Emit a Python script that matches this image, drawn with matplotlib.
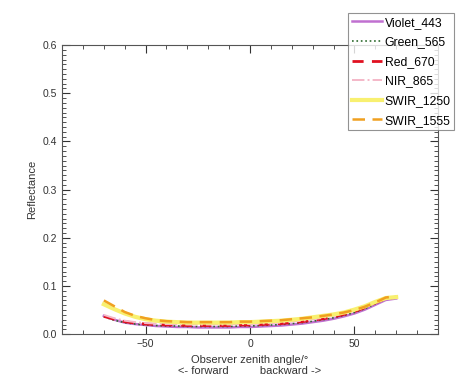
import numpy as np
import matplotlib
matplotlib.use("Agg")
import matplotlib.pyplot as plt
from matplotlib.ticker import MultipleLocator

plt.rcParams['font.family'] = ['Liberation Sans', 'DejaVu Sans']

# zenith angles (negative = forward, positive = backward)
angles = [-70, -65, -60, -55, -50, -45, -40, -35, -30, -25, -20, -15, -10, -5, 0,
          5, 10, 15, 20, 25, 30, 35, 40, 45, 50, 55, 60, 65, 70]

violet_443 = [0.038, 0.030, 0.024, 0.021, 0.019, 0.017, 0.016, 0.015, 0.015, 0.014, 0.014, 0.014, 0.014, 0.015, 0.015,
              0.016, 0.017, 0.018, 0.020, 0.022, 0.025, 0.028, 0.032, 0.037, 0.043, 0.051, 0.061, 0.071, 0.074]
green_565 = [0.036, 0.029, 0.024, 0.021, 0.019, 0.018, 0.017, 0.017, 0.016, 0.016, 0.016, 0.016, 0.016, 0.017, 0.017,
             0.018, 0.019, 0.020, 0.022, 0.024, 0.027, 0.030, 0.034, 0.039, 0.045, 0.053, 0.063, 0.073, 0.076]
red_670 = [0.037, 0.031, 0.026, 0.023, 0.021, 0.020, 0.019, 0.019, 0.018, 0.018, 0.018, 0.018, 0.018, 0.019, 0.019,
           0.020, 0.021, 0.022, 0.024, 0.026, 0.029, 0.032, 0.036, 0.041, 0.047, 0.055, 0.065, 0.074, 0.077]
nir_865 = [0.040, 0.033, 0.028, 0.025, 0.023, 0.022, 0.021, 0.021, 0.020, 0.020, 0.020, 0.020, 0.020, 0.021, 0.021,
           0.022, 0.023, 0.024, 0.026, 0.028, 0.031, 0.034, 0.038, 0.043, 0.049, 0.057, 0.066, 0.075, 0.078]
swir_1250 = [0.062, 0.052, 0.043, 0.036, 0.031, 0.028, 0.026, 0.025, 0.024, 0.024, 0.024, 0.024, 0.024, 0.025, 0.025,
             0.026, 0.027, 0.028, 0.030, 0.032, 0.035, 0.038, 0.041, 0.045, 0.051, 0.058, 0.067, 0.075, 0.077]
swir_1555 = [0.070, 0.058, 0.046, 0.038, 0.033, 0.029, 0.027, 0.026, 0.025, 0.025, 0.025, 0.025, 0.025, 0.026, 0.026,
             0.027, 0.028, 0.029, 0.031, 0.033, 0.035, 0.038, 0.041, 0.045, 0.050, 0.057, 0.066, 0.076, 0.079]

fig = plt.figure(figsize=(4.6, 3.85), dpi=100)
ax = fig.add_axes([0.135, 0.132, 0.817, 0.751])

ax.plot(angles, violet_443, color='#c070d0', lw=1.8, ls='-', label='Violet_443')
ax.plot(angles, green_565, color='#2e6b2e', lw=1.2, ls=':', label='Green_565')
ax.plot(angles, red_670, color='#e01020', lw=2.0, ls=(0, (4, 3)), label='Red_670')
ax.plot(angles, nir_865, color='#f4b8c8', lw=1.4, ls='-.', label='NIR_865')
ax.plot(angles, swir_1250, color='#f8f070', lw=3.0, ls='-', label='SWIR_1250')
ax.plot(angles, swir_1555, color='#f0a020', lw=1.8, ls=(0, (5, 3)), label='SWIR_1555')

ax.set_xlim(-90, 90)
ax.set_ylim(0, 0.6)
ax.xaxis.set_major_locator(MultipleLocator(50))
ax.xaxis.set_minor_locator(MultipleLocator(10))
ax.yaxis.set_major_locator(MultipleLocator(0.1))
ax.yaxis.set_minor_locator(MultipleLocator(0.01))
ax.yaxis.set_major_formatter(plt.FuncFormatter(lambda v, p: f"{v:.1f}"))
ax.tick_params(which='both', direction='in', top=True, right=True, labelsize=7.5, colors='#333333')
ax.tick_params(which='major', length=6)
ax.tick_params(which='minor', length=3)
for s in ax.spines.values():
    s.set_color('#555555')
    s.set_linewidth(0.8)

ax.set_xlabel("Observer zenith angle/°\n<- forward          backward ->", fontsize=8, color='#333333')
ax.set_ylabel("Reflectance", fontsize=8, color='#333333')

leg = fig.legend(loc='upper right', bbox_to_anchor=(0.988, 0.966), fontsize=8.8,
                 frameon=True, fancybox=False, handlelength=2.5, labelspacing=0.62,
                 borderpad=0.3, handletextpad=0.2, borderaxespad=0)
leg.get_frame().set_edgecolor('#777777')
leg.get_frame().set_linewidth(0.8)

fig.savefig("out.png", dpi=100)
